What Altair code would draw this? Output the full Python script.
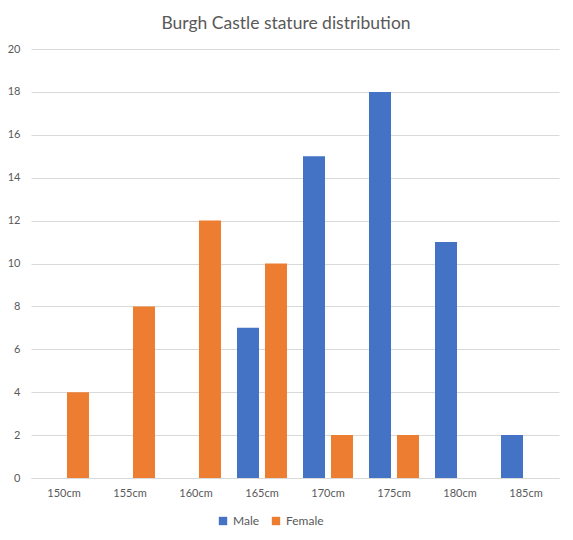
import altair as alt
import pandas as pd

categories = ["150cm", "155cm", "160cm", "165cm", "170cm", "175cm", "180cm", "185cm"]
male = [0, 0, 0, 7, 15, 18, 11, 2]
female = [4, 8, 12, 10, 2, 2, 0, 0]
series = ["Male", "Female"]
colors = ["#4472C4", "#ED7D31"]

rows = []
for c, m, f in zip(categories, male, female):
    rows.append({"height": c, "series": "Male", "count": m})
    rows.append({"height": c, "series": "Female", "count": f})
df = pd.DataFrame(rows)

FONT = "Lato"
GRAY = "#595959"

chart = alt.Chart(df).mark_bar().encode(
    x=alt.X("height:N", sort=categories, title=None,
            scale=alt.Scale(paddingInner=0, paddingOuter=0),
            axis=alt.Axis(labelAngle=0, ticks=False, domainColor="#d9d9d9",
                          labelColor=GRAY, labelFont=FONT, labelFontSize=11,
                          labelPadding=9, grid=False)),
    xOffset=alt.XOffset("series:N", sort=series,
                        scale=alt.Scale(paddingInner=0.214, paddingOuter=0.286)),
    y=alt.Y("count:Q", title=None,
            scale=alt.Scale(domain=[0, 20]),
            axis=alt.Axis(values=list(range(0, 21, 2)), ticks=False, domain=False,
                          gridColor="#d9d9d9", labelColor=GRAY, labelFont=FONT,
                          labelFontSize=11, labelPadding=11)),
    color=alt.Color("series:N", sort=series,
                    scale=alt.Scale(domain=series, range=colors),
                    legend=alt.Legend(title=None, orient="none", direction="horizontal",
                                      legendX=186, legendY=466, symbolType="square",
                                      symbolSize=70, labelFont=FONT, labelFontSize=12,
                                      labelColor=GRAY, columnPadding=10)),
).properties(
    width=528,
    height=429,
    padding={"left": 23, "top": 41, "right": 6, "bottom": 55},
    autosize=alt.AutoSizeParams(type="none"),
    title=alt.TitleParams("Burgh Castle stature distribution", font=FONT, fontSize=17.5,
                          fontWeight="normal", color=GRAY, offset=11, dx=-9),
).configure_view(stroke=None)

chart.save("out.html", embed_options={"renderer": "svg", "actions": False})
